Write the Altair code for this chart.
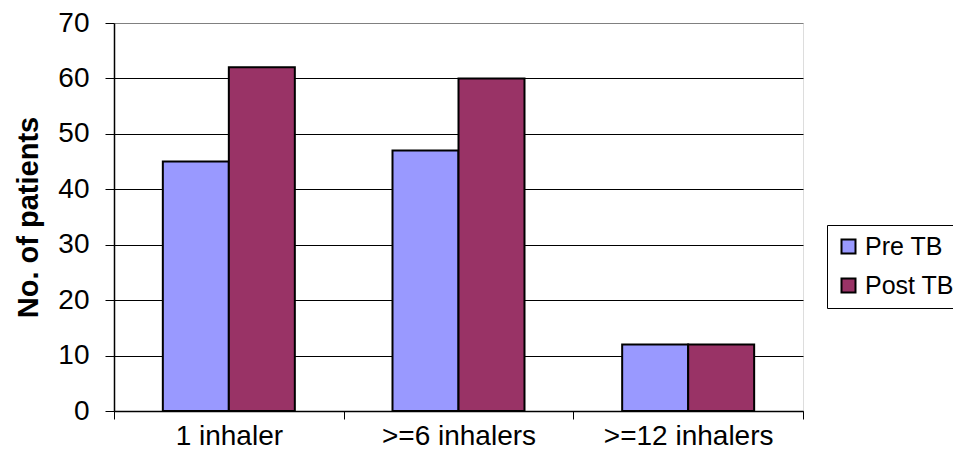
import altair as alt
import pandas as pd

categories = ["1 inhaler", ">=6 inhalers", ">=12 inhalers"]
series = ["Pre TB", "Post TB"]
pre_tb = [45, 47, 12]
post_tb = [62, 60, 12]
colors = ["#9999FF", "#993366"]
y_ticks = [0, 10, 20, 30, 40, 50, 60, 70]

rows = []
for c, a, b in zip(categories, pre_tb, post_tb):
    rows.append({"category": c, "series": "Pre TB", "value": a})
    rows.append({"category": c, "series": "Post TB", "value": b})
df = pd.DataFrame(rows)

FONT = "Liberation Sans"

chart = alt.Chart(df).mark_bar(stroke="black", strokeWidth=2).encode(
    x=alt.X(
        "category:N",
        sort=categories,
        scale=alt.Scale(paddingInner=0, paddingOuter=0),
        axis=alt.Axis(
            title=None,
            labelAngle=0,
            tickBand="extent",
            labelFont=FONT,
            labelFontSize=28,
            labelColor="black",
            tickSize=8,
            tickColor="black",
            domainColor="black",
            domainWidth=1.5,
            labelPadding=3,
            grid=False,
        ),
    ),
    xOffset=alt.XOffset(
        "series:N",
        sort=series,
        scale=alt.Scale(paddingInner=0, paddingOuter=0.74),
    ),
    y=alt.Y(
        "value:Q",
        scale=alt.Scale(domain=[0, 70]),
        axis=alt.Axis(
            values=y_ticks,
            title="No. of patients",
            titleFont=FONT,
            titleFontSize=29,
            titleFontWeight="bold",
            titleColor="black",
            titlePadding=14,
            labelFont=FONT,
            labelFontSize=28,
            labelColor="black",
            labelPadding=16,
            tickSize=9,
            tickColor="black",
            domainColor="black",
            domainWidth=1.5,
            grid=True,
            gridColor={"condition": {"test": "datum.value === 70", "value": "#808080"}, "value": "black"},
            gridWidth=1,
        ),
    ),
    color=alt.Color(
        "series:N",
        sort=series,
        scale=alt.Scale(domain=series, range=colors),
        legend=alt.Legend(
            title=None,
            orient="none",
            legendX=713,
            legendY=202,
            labelFont=FONT,
            labelFontSize=25,
            labelColor="black",
            labelOffset=4,
            symbolType="square",
            symbolSize=196,
            symbolStrokeColor="black",
            symbolStrokeWidth=2,
            rowPadding=13,
            padding=9,
            strokeColor="black",
            fillColor="white",
        ),
    ),
).properties(
    width=689,
    height=388,
    autosize=alt.AutoSizeParams(type="none"),
    padding={"left": 106, "top": 15, "right": 150, "bottom": 40},
).configure_view(
    fill="#F0F0F0",
    stroke="#808080",
    strokeWidth=2,
).configure(background="white")

chart.save("out.html", embed_options={"renderer": "svg", "actions": False})
